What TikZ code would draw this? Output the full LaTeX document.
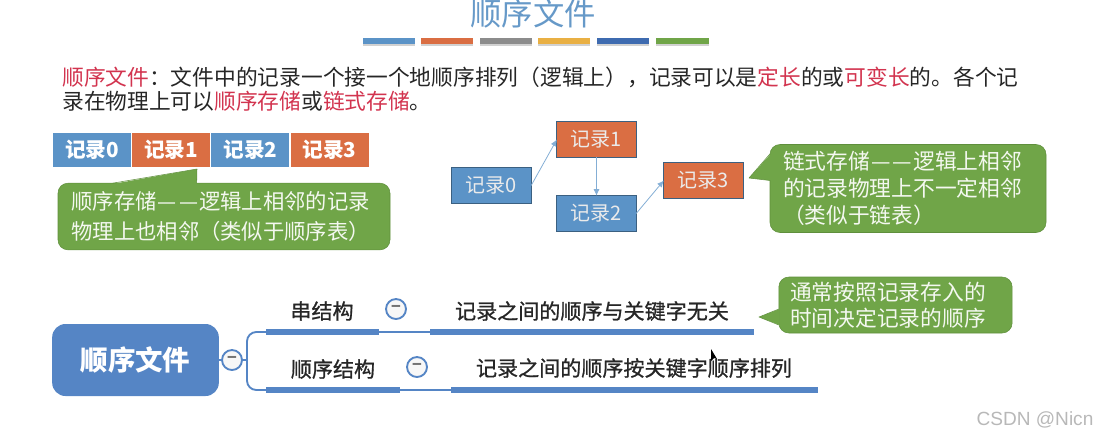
\documentclass[tikz,border=0pt]{standalone}
\usepackage{fontspec}
\usepackage{xcolor}
\setmainfont{Noto Sans CJK SC}
\newfontfamily\midfont[FakeBold=0.9]{Noto Sans CJK SC}
\newfontfamily\markfont{Liberation Sans}
\usetikzlibrary{positioning, arrows.meta}
\definecolor{fsblue}{HTML}{5B93C7}
\definecolor{fsorange}{HTML}{DA6E43}
\definecolor{fsgreen}{HTML}{70A548}
\definecolor{fsgreenedge}{HTML}{5F8F3C}
\definecolor{fsnavy}{HTML}{5585C5}
\definecolor{fsred}{HTML}{D2344F}
\definecolor{fstitle}{HTML}{6699C8}
\definecolor{fsink}{HTML}{262626}
\definecolor{fsyellow}{HTML}{E9B044}
\definecolor{fsdeep}{HTML}{3E6BB0}
\newcommand{\fsdash}{\makebox[1em][c]{\char"2014}\makebox[1em][c]{\char"2014}}

\begin{document}
\begin{tikzpicture}[
  x=0.75pt, y=-0.75pt,
  cell/.style={inner sep=0pt, outer sep=0pt, minimum width=58.5pt, minimum height=25pt, text=white, font=\fontsize{15.5}{18}\selectfont\bfseries},
  cella/.style={cell, fill=fsblue},
  cellb/.style={cell, fill=fsorange},
  rec/.style={inner sep=0pt, outer sep=0pt, minimum width=59.5pt, minimum height=26.5pt, text=white!92!black, draw=black!35!fsblue, semithick, font=\fontsize{15}{18}\selectfont},
  reca/.style={rec, fill=fsblue},
  recb/.style={rec, fill=fsorange},
  note/.style={fill=fsgreen, draw=fsgreenedge, rounded corners=7.5pt, inner sep=0pt, outer sep=0pt, align=left, text=white!92!fsgreen, font=\fontsize{16.2}{21}\selectfont},
  tail/.style={fill=fsgreen},
  tailedge/.style={draw=fsgreenedge, line join=round},
  link/.style={draw=fsblue!75!white, -{Latex[length=5pt, width=4.5pt]}, semithick},
  topic/.style={fill=fsnavy, text=white, rounded corners=10pt, inner sep=0pt, outer sep=0pt, minimum width=125pt, minimum height=54pt, font=\fontsize{20.6}{24}\selectfont\bfseries},
  fold/.style={circle, draw=fsnavy, line width=1.4pt, fill=black!3, inner sep=0pt, outer sep=0pt, minimum size=15pt, text=black!55, font=\fontsize{12}{12}\selectfont\bfseries},
  branch/.style={draw=fsnavy, line width=1.4pt, rounded corners=7pt},
  bar/.style={draw=fsnavy, line width=4.2pt},
  thinbar/.style={draw=fsnavy, line width=1.4pt},
  lab/.style={text=fsink, inner sep=0pt, font=\fontsize{15.8}{18}\midfont},
  para/.style={anchor=west, inner sep=0pt, text=fsink, font=\fontsize{16.3}{20}\selectfont},
]
  \useasboundingbox (0,0) rectangle (1097,437);

  % Title and its coloured strip.
  \node[inner sep=0pt, text=fstitle, font=\fontsize{23.5}{28}\selectfont] (title) at (533,14) {顺序文件};
  \foreach \xa/\xb/\barcol in {363/415/fsblue, 421/473/fsorange, 480/532/black!45, 538/590/fsyellow, 597/649/fsdeep, 656/709/fsgreen} {
    \fill[black!18] (\xa,40) rectangle (\xb,46);
    \fill[\barcol] (\xa,38) rectangle (\xb,44);
  }

  % Definition, one node per line.
  \node[para] (line1) at (62,77) {\textcolor{fsred}{顺序文件}^^^^ff1a文件中的记录一个接一个地顺序排列^^^^ff08逻辑上^^^^ff09^^^^ff0c记录可以是\textcolor{fsred}{定长}的或\textcolor{fsred}{可变长}的。各个记};
  \node[para] (line2) at (62,101) {录在物理上可以\textcolor{fsred}{顺序存储}或\textcolor{fsred}{链式存储}。};

  % Sequential storage: a row of touching cells.
  \node[cella] (seq0) at (92,150) {记录0};
  \node[cellb, right=0.9pt of seq0] (seq1) {记录1};
  \node[cella, right=0.9pt of seq1] (seq2) {记录2};
  \node[cellb, right=0.9pt of seq2] (seq3) {记录3};

  \node[note, minimum width=249pt, minimum height=50pt, text width=229pt, font=\fontsize{16}{22.5}\selectfont] (seqnote) at (224,216.5) {顺序存储\fsdash 逻辑上相邻的记录\\物理上也相邻^^^^ff08类似于顺序表^^^^ff09};
  \coordinate (seqtip) at (197,169);
  \fill[tail] ([xshift=41pt,yshift=-0.6pt]seqnote.north west) -- (seqtip) -- ([xshift=104pt,yshift=-0.6pt]seqnote.north west) -- cycle;
  \draw[tailedge] ([xshift=41pt]seqnote.north west) -- (seqtip) -- ([xshift=104pt]seqnote.north west);

  % Linked storage.
  \node[reca] (lnk0) at (491.5,185.5) {记录0};
  \node[recb] (lnk1) at (596.5,139.5) {记录1};
  \node[reca] (lnk2) at (596.5,213.5) {记录2};
  \node[recb] (lnk3) at (703.5,180.5) {记录3};
  \draw[link] (lnk0.east) -- (lnk1.west);
  \draw[link] (lnk1.south) -- (lnk2.north);
  \draw[link] (lnk2.east) -- (lnk3.west);

  \node[note, minimum width=207pt, minimum height=66pt, text width=187.5pt, font=\fontsize{16.3}{20.5}\selectfont] (lnknote) at (908,188.5) {链式存储\fsdash 逻辑上相邻\\的记录物理上不一定相邻\\^^^^ff08类似于链表^^^^ff09};
  \coordinate (lnktip) at (749,178);
  \fill[tail] ([xshift=0.6pt,yshift=-7pt]lnknote.north west) -- (lnktip) -- ([xshift=0.6pt,yshift=-27pt]lnknote.north west) -- cycle;
  \draw[tailedge] ([yshift=-7pt]lnknote.north west) -- (lnktip) -- ([yshift=-27pt]lnknote.north west);

  % Mind map at the bottom.
  \node[topic] (main) at (135.5,360) {顺序文件};
  \node[fold] (foldmain) at (232,360) {−};
  \draw[thinbar] (main.east) -- (foldmain.west);

  \coordinate (fork) at (247,360);
  \coordinate (up0) at (266,332);
  \coordinate (up1) at (379,332);
  \coordinate (up2) at (430,332);
  \coordinate (up3) at (754,332);
  \coordinate (lo0) at (266,390);
  \coordinate (lo1) at (400,390);
  \coordinate (lo2) at (451,390);
  \coordinate (lo3) at (818,390);
  \draw[branch] (up0) -| (fork) |- (lo0);
  \draw[thinbar] (foldmain.east) -- (fork);
  \draw[bar] (up0) -- (up1);
  \draw[thinbar] (up1) -- (up2);
  \draw[bar] (up2) -- (up3);
  \draw[bar] (lo0) -- (lo1);
  \draw[thinbar] (lo1) -- (lo2);
  \draw[bar] (lo2) -- (lo3);

  \node[lab] (chain) at (322,311) {串结构};
  \node[fold] (foldchain) at (396,309) {−};
  \node[lab] (chaintext) at (592,311) {记录之间的顺序与关键字无关};
  \node[lab] (order) at (333,369) {顺序结构};
  \node[fold] (foldorder) at (417,367) {−};
  \node[lab] (ordertext) at (634,368) {记录之间的顺序按关键字顺序排列};

  \node[note, minimum width=175pt, minimum height=42pt, text width=158pt, font=\fontsize{16.3}{19.5}\selectfont] (mapnote) at (895.5,305) {通常按照记录存入的\\时间决定记录的顺序};
  \coordinate (maptip) at (759,317);
  \fill[tail] ([xshift=0.6pt,yshift=-24pt]mapnote.north west) -- (maptip) -- ([xshift=0.6pt,yshift=-36pt]mapnote.north west) -- cycle;
  \draw[tailedge] ([yshift=-24pt]mapnote.north west) -- (maptip) -- ([yshift=-36pt]mapnote.north west);

  % Pointer left in the screenshot.
  \fill[black] (711,349) -- (711,361) -- (714,358) -- (717,359) -- cycle;

  \node[inner sep=0pt, text=black!28, font=\fontsize{14.3}{16}\markfont] (mark) at (1035,420) {CSDN @Nicn};
\end{tikzpicture}
\end{document}
